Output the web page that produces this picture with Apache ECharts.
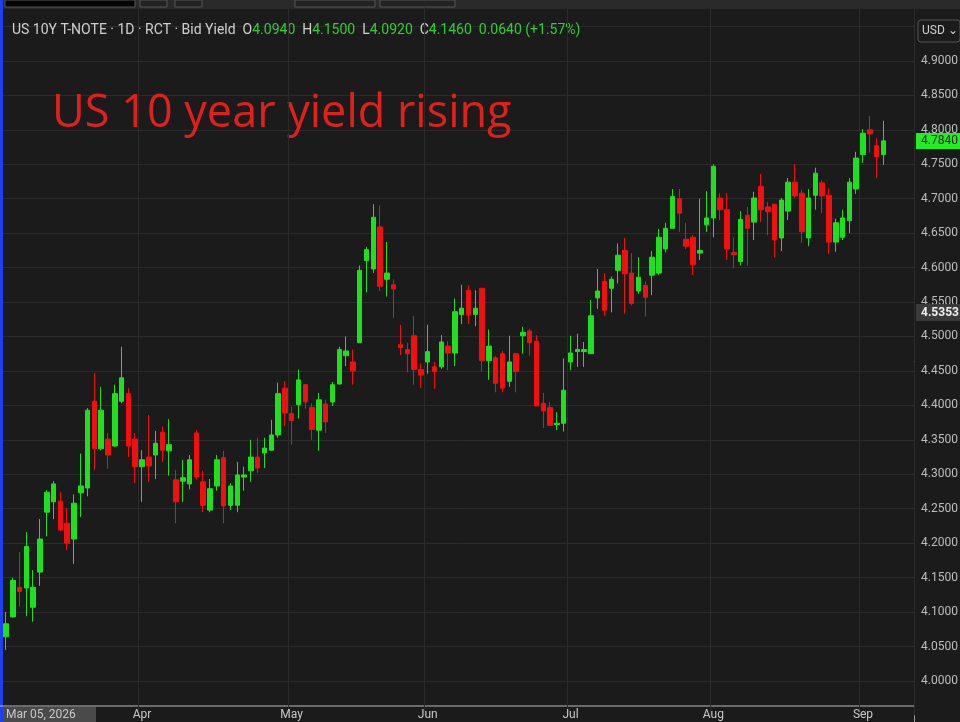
<!DOCTYPE html>
<html><head><meta charset="utf-8">
<script src="https://cdn.jsdelivr.net/npm/echarts@6/dist/echarts.min.js"></script>
<style>html,body{margin:0;padding:0;background:#1b1b1b}#c{width:960px;height:722px}</style>
</head><body><div id="c"></div>
<script>
const openV = [4.064,4.093,4.136,4.135,4.107,4.158,4.245,4.260,4.261,4.229,4.206,4.273,4.280,4.406,4.337,4.351,4.341,4.406,4.417,4.351,4.311,4.325,4.328,
4.361,4.334,4.292,4.290,4.286,4.360,4.289,4.248,4.283,4.324,4.255,4.255,4.296,4.305,4.325,4.331,4.335,4.357,4.425,4.388,4.401,4.430,
4.397,4.364,4.402,4.405,4.431,4.472,4.463,4.491,4.610,4.598,4.659,4.583,4.575,4.488,4.481,4.501,4.452,4.463,4.456,4.456,4.486,4.476,
4.532,4.567,4.532,4.570,4.465,4.469,4.475,4.435,4.475,4.501,4.508,4.493,4.403,4.397,4.372,4.374,4.463,4.478,4.478,4.475,4.556,4.580,
4.570,4.596,4.625,4.592,4.566,4.574,4.589,4.592,4.627,4.657,4.700,4.641,4.644,4.621,4.662,4.672,4.701,4.684,4.622,4.609,4.676,4.666,
4.718,4.688,4.692,4.643,4.682,4.724,4.708,4.643,4.705,4.723,4.705,4.637,4.644,4.668,4.714,4.764,4.800,4.777,4.764];
const closeV = [4.083,4.146,4.130,4.195,4.136,4.206,4.274,4.286,4.219,4.200,4.258,4.283,4.393,4.337,4.393,4.328,4.417,4.440,4.341,4.311,4.321,4.312,4.345,
4.335,4.343,4.260,4.295,4.321,4.296,4.255,4.279,4.321,4.254,4.283,4.299,4.299,4.325,4.309,4.338,4.357,4.417,4.389,4.378,4.437,4.405,
4.365,4.408,4.376,4.430,4.481,4.479,4.450,4.596,4.626,4.673,4.573,4.592,4.569,4.484,4.475,4.452,4.444,4.478,4.449,4.492,4.476,4.536,
4.541,4.531,4.541,4.465,4.486,4.432,4.425,4.463,4.449,4.506,4.491,4.399,4.392,4.371,4.374,4.422,4.476,4.481,4.481,4.530,4.566,4.538,
4.583,4.618,4.591,4.548,4.586,4.557,4.615,4.644,4.657,4.703,4.679,4.631,4.604,4.625,4.672,4.747,4.684,4.627,4.619,4.670,4.657,4.701,
4.684,4.681,4.640,4.698,4.724,4.704,4.652,4.701,4.737,4.704,4.637,4.665,4.672,4.724,4.759,4.795,4.794,4.761,4.784];
const lowV = [4.045,4.092,4.108,4.094,4.086,4.138,4.210,4.235,4.218,4.190,4.170,4.238,4.268,4.306,4.335,4.308,4.340,4.403,4.325,4.287,4.260,4.289,4.293,
4.318,4.298,4.229,4.260,4.278,4.292,4.245,4.245,4.276,4.229,4.248,4.245,4.276,4.289,4.302,4.309,4.334,4.353,4.370,4.343,4.381,4.395,
4.350,4.334,4.360,4.399,4.430,4.457,4.430,4.491,4.564,4.592,4.566,4.558,4.527,4.473,4.448,4.430,4.425,4.446,4.424,4.453,4.451,4.457,
4.518,4.518,4.515,4.449,4.437,4.419,4.419,4.427,4.419,4.475,4.472,4.399,4.367,4.370,4.364,4.362,4.451,4.456,4.456,4.475,4.540,4.530,
4.535,4.577,4.533,4.545,4.562,4.529,4.560,4.589,4.622,4.657,4.652,4.627,4.589,4.611,4.652,4.644,4.669,4.611,4.599,4.603,4.603,4.640,
4.666,4.647,4.615,4.624,4.669,4.701,4.636,4.631,4.684,4.679,4.620,4.623,4.640,4.650,4.707,4.752,4.767,4.730,4.749];
const highV = [4.100,4.150,4.187,4.216,4.161,4.235,4.277,4.290,4.274,4.251,4.271,4.330,4.396,4.447,4.427,4.360,4.430,4.485,4.425,4.360,4.335,4.386,4.363,
4.369,4.380,4.306,4.321,4.328,4.364,4.305,4.293,4.328,4.334,4.287,4.318,4.311,4.350,4.353,4.353,4.379,4.433,4.435,4.398,4.452,4.431,
4.403,4.418,4.408,4.434,4.485,4.500,4.481,4.603,4.630,4.692,4.690,4.637,4.583,4.517,4.491,4.530,4.461,4.517,4.463,4.502,4.493,4.555,
4.575,4.574,4.567,4.570,4.510,4.472,4.479,4.501,4.475,4.514,4.511,4.502,4.418,4.405,4.390,4.468,4.501,4.504,4.492,4.553,4.598,4.592,
4.587,4.635,4.643,4.621,4.615,4.580,4.624,4.656,4.665,4.714,4.714,4.665,4.647,4.700,4.711,4.750,4.708,4.708,4.644,4.682,4.688,4.710,
4.736,4.695,4.692,4.701,4.730,4.750,4.713,4.714,4.745,4.727,4.715,4.671,4.684,4.730,4.768,4.801,4.820,4.788,4.813];
const monthLabels = {0:'Mar 05, 2026',20:'Apr',42:'May',62:'Jun',83:'Jul',104:'Aug',126:'Sep'};
const padCount = 4;

const categories = openV.map((_, i) => String(i)).concat(Array.from({length: padCount}, (_, k) => 'p' + k));
const ohlc = openV.map((o, i) => [o, closeV[i], lowV[i], highV[i]]);

const chart = echarts.init(document.getElementById('c'));
chart.setOption({
  backgroundColor: '#1b1b1b',
  animation: false,
  grid: {left: 2.6, right: 46, top: 7.5, bottom: 6.6, outerBoundsMode: 'none', containLabel: false},
  xAxis: {
    type: 'category', data: categories, boundaryGap: true, z: 10,
    axisLine: {show: false}, axisTick: {show: false},
    axisLabel: {
      interval: 0, margin: -6, color: '#c8c8c8', fontSize: 12, fontFamily: 'Roboto',
      verticalAlign: 'top', alignMinLabel: 'left', hideOverlap: false,
      formatter: (v, i) => monthLabels[i] || ''
    },
    splitLine: {show: true, interval: (i) => monthLabels[i] !== undefined && i > 0, lineStyle: {color: '#2b2b2b', width: 1}}
  },
  yAxis: {
    type: 'value', position: 'right', min: 3.95, max: 4.9775, interval: 0.05,
    axisLine: {show: false}, axisTick: {show: false},
    axisLabel: {
      color: '#bdbdbd', fontSize: 12, fontFamily: 'Roboto', margin: 7, align: 'left',
      formatter: v => (v >= 3.999 && v <= 4.901) ? v.toFixed(4) : ''
    },
    splitLine: {lineStyle: {color: '#2b2b2b', width: 1}}
  },
  series: [{
    type: 'candlestick', data: ohlc, barWidth: 5,
    itemStyle: {color: '#1fe01f', color0: '#f01010', borderColor: '#1fe01f', borderColor0: '#f01010', borderWidth: 1}
  }],
  graphic: [
    {type: 'rect', z: 5, shape: {x: 0, y: 0, width: 960, height: 9}, style: {fill: '#2a2a2a'}},
    {type: 'rect', z: 6, shape: {x: 5, y: 0, width: 130, height: 7}, style: {fill: '#050505', stroke: '#555'}},
    {type: 'rect', z: 6, shape: {x: 140, y: 0, width: 27, height: 7}, style: {fill: '#222', stroke: '#555'}},
    {type: 'rect', z: 6, shape: {x: 175, y: 0, width: 27, height: 7}, style: {fill: '#222', stroke: '#555'}},
    {type: 'rect', z: 6, shape: {x: 295, y: 0, width: 80, height: 7}, style: {fill: '#222', stroke: '#555'}},
    {type: 'rect', z: 6, shape: {x: 380, y: 0, width: 75, height: 7}, style: {fill: '#222', stroke: '#555'}},
    {type: 'rect', z: 6, shape: {x: 0, y: 0, width: 3, height: 722}, style: {fill: '#2040f0'}},
    {type: 'rect', z: 5, shape: {x: 0, y: 706, width: 960, height: 16}, style: {fill: '#1b1b1b'}},
    {type: 'line', z: 6, shape: {x1: 0, y1: 706, x2: 914, y2: 706}, style: {stroke: '#bbbbbb', lineWidth: 1}},
    {type: 'rect', z: 6, shape: {x: 3, y: 707, width: 93, height: 15}, style: {fill: '#4a4a4a'}},
    {type: 'line', z: 6, shape: {x1: 914.5, y1: 9, x2: 914.5, y2: 722}, style: {stroke: '#9a9a9a', lineWidth: 1}},
    {type: 'rect', z: 6, shape: {x: 918, y: 20, width: 42, height: 22, r: 3}, style: {fill: '#1b1b1b', stroke: '#555'}},
    {type: 'text', z: 7, style: {x: 922, y: 31, text: 'USD ⌄', fill: '#d0d0d0', font: '12px Roboto', verticalAlign: 'middle'}},
    {type: 'text', z: 7, style: {x: 12, y: 30, verticalAlign: 'middle', font: '14px Roboto', rich: {
      a: {fill: '#d0d0d0', font: '14px Roboto'}, g: {fill: '#2fd02f', font: '14px Roboto'}},
      text: '{a|US 10Y T-NOTE · 1D · RCT · Bid Yield  O}{g|4.0940}{a|  H}{g|4.1500}{a|  L}{g|4.0920}{a|  C}{g|4.1460  0.0640 (+1.57%)}'}},
    {type: 'text', z: 7, style: {x: 52, y: 114, text: 'US 10 year yield rising', fill: '#e0201a', font: '45px "Open Sans"', verticalAlign: 'middle'}},
    {type: 'rect', z: 7, shape: {x: 916, y: 133, width: 44, height: 16}, style: {fill: '#22ee22'}},
    {type: 'text', z: 8, style: {x: 921, y: 141, text: '4.7840', fill: '#1b1b1b', font: '12px Roboto', verticalAlign: 'middle'}},
    {type: 'rect', z: 7, shape: {x: 916, y: 304, width: 44, height: 17}, style: {fill: '#3a3a3a'}},
    {type: 'text', z: 8, style: {x: 921, y: 313, text: '4.5353', fill: '#f0f0f0', font: 'bold 12px Roboto', verticalAlign: 'middle'}}
  ]
});
</script></body></html>
